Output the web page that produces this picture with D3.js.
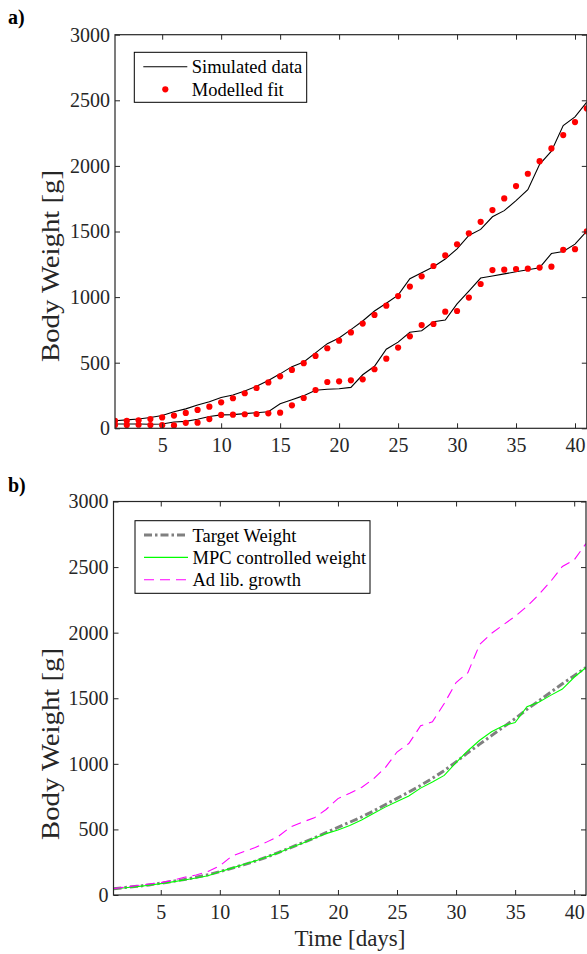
<!DOCTYPE html>
<html>
<head>
<meta charset="utf-8">
<script src="https://cdn.jsdelivr.net/npm/d3@7"></script>
<style>
  body { margin: 0; background: #fff; }
  text { font-family: "Liberation Serif", "Times New Roman", serif; }
</style>
</head>
<body>
<svg id="chart" width="587" height="954"></svg>
<script>
// days on the x axis
const days = [1, 2, 3, 4, 5, 6, 7, 8, 9, 10, 11, 12, 13, 14, 15, 16, 17, 18, 19, 20,
  21, 22, 23, 24, 25, 26, 27, 28, 29, 30, 31, 32, 33, 34, 35, 36, 37, 38, 39, 40, 41];

// panel a: simulated data (two animals) and the modelled fit
const simUpper = [58, 64, 71, 82, 98, 126, 148, 178, 202, 235, 254, 285, 320, 365, 415, 470, 505, 575, 645, 688,
  752, 818, 894, 953, 1015, 1140, 1186, 1232, 1290, 1368, 1470, 1516, 1612, 1659, 1735, 1819, 2012, 2112, 2308, 2374, 2486];
const fitUpper = [56, 57, 61, 70, 83, 97, 117, 140, 165, 198, 229, 267, 307, 350, 396, 445, 496, 552, 610, 668,
  731, 798, 864, 935, 1008, 1080, 1158, 1237, 1318, 1403, 1486, 1574, 1663, 1752, 1846, 1940, 2036, 2133, 2235, 2334, 2438];
const simLower = [33, 33, 33, 31, 33, 48, 53, 69, 90, 102, 104, 112, 119, 126, 187, 217, 249, 290, 298, 302,
  312, 408, 473, 603, 657, 732, 744, 812, 825, 948, 1045, 1145, 1161, 1177, 1193, 1208, 1224, 1332, 1347, 1404, 1502];
const fitLower = [25, 25, 27, 25, 24, 22, 42, 43, 70, 102, 104, 107, 109, 114, 119, 175, 231, 292, 353, 358,
  366, 373, 450, 531, 615, 701, 787, 795, 889, 894, 996, 1100, 1206, 1209, 1214, 1217, 1225, 1232, 1360, 1365, 1501];

// panel b: target, MPC controlled and ad lib. growth
const targetWeight = [48, 57, 66, 77, 90, 104, 118, 135, 155, 178, 203, 230, 258, 290, 325, 362, 398, 435, 475, 515,
  555, 595, 640, 688, 737, 785, 835, 890, 948, 1015, 1085, 1150, 1215, 1280, 1345, 1415, 1480, 1545, 1610, 1672, 1735];
const mpcWeight = [46, 55, 64, 74, 87, 100, 114, 130, 147, 178, 205, 232, 260, 292, 323, 362, 395, 432, 468, 495,
  530, 572, 622, 670, 712, 755, 815, 862, 912, 1010, 1100, 1180, 1245, 1290, 1315, 1435, 1470, 1522, 1570, 1660, 1735];
const adLibWeight = [48, 60, 72, 84, 94, 112, 135, 152, 180, 222, 295, 330, 362, 405, 450, 520, 556, 588, 652, 735,
  775, 820, 885, 970, 1090, 1155, 1290, 1320, 1460, 1620, 1695, 1910, 1995, 2060, 2125, 2200, 2290, 2390, 2505, 2555, 2680];

const xTicks = [5, 10, 15, 20, 25, 30, 35, 40];
const yTicks = [0, 500, 1000, 1500, 2000, 2500, 3000];

const svg = d3.select('#chart');
const axisColor = '#262626';
const serif = '"Liberation Serif", "Times New Roman", serif';

function drawPanel(cfg) {
  const x = d3.scaleLinear().domain([1, 41]).range([cfg.left, cfg.right]);
  const y = d3.scaleLinear().domain([0, 3000]).range([cfg.bottom, cfg.top]);
  const g = svg.append('g');

  g.append('clipPath').attr('id', cfg.id + '-clip')
    .append('rect')
    .attr('x', cfg.left).attr('y', cfg.top)
    .attr('width', cfg.right - cfg.left).attr('height', cfg.bottom - cfg.top);

  const plot = g.append('g').attr('clip-path', `url(#${cfg.id}-clip)`);
  cfg.series.forEach(s => {
    if (s.type === 'line') {
      plot.append('path')
        .datum(s.values)
        .attr('fill', 'none')
        .attr('stroke', s.color)
        .attr('stroke-width', s.width)
        .attr('stroke-dasharray', s.dash || null)
        .attr('d', d3.line().x((d, i) => x(days[i])).y(d => y(d)));
    } else {
      plot.selectAll(null)
        .data(s.values)
        .enter()
        .append('circle')
        .attr('cx', (d, i) => x(days[i]))
        .attr('cy', d => y(d))
        .attr('r', 3.1)
        .attr('fill', s.color);
    }
  });

  // axes: ticks pointing inwards on all four sides
  const tl = 5;
  const fmt = d3.format('d');
  const axes = g.append('g');
  axes.append('g')
    .attr('transform', `translate(0,${cfg.bottom})`)
    .call(d3.axisBottom(x).tickValues(xTicks).tickFormat(fmt).tickSizeInner(-tl).tickSizeOuter(0).tickPadding(10));
  axes.append('g')
    .attr('transform', `translate(0,${cfg.top})`)
    .call(d3.axisTop(x).tickValues(xTicks).tickSizeInner(-tl).tickSizeOuter(0).tickFormat(''));
  axes.append('g')
    .attr('transform', `translate(${cfg.left},0)`)
    .call(d3.axisLeft(y).tickValues(yTicks).tickFormat(fmt).tickSizeInner(-tl).tickSizeOuter(0).tickPadding(5));
  axes.append('g')
    .attr('transform', `translate(${cfg.right},0)`)
    .call(d3.axisRight(y).tickValues(yTicks).tickSizeInner(-tl).tickSizeOuter(0).tickFormat(''));

  axes.selectAll('.domain').remove();
  axes.selectAll('g').attr('font-family', serif).attr('font-size', 20);
  axes.selectAll('.tick line').attr('stroke', axisColor).attr('stroke-width', 1);
  axes.selectAll('.tick text')
    .attr('fill', axisColor)
    .style('font-family', serif)
    .style('font-size', '20px');

  g.append('rect')
    .attr('x', cfg.left).attr('y', cfg.top)
    .attr('width', cfg.right - cfg.left).attr('height', cfg.bottom - cfg.top)
    .attr('fill', 'none').attr('stroke', axisColor).attr('stroke-width', 1.2);

  g.append('text')
    .attr('transform', `translate(${cfg.ylabelX},${cfg.ylabelY}) rotate(-90)`)
    .attr('text-anchor', 'middle')
    .attr('fill', axisColor)
    .attr('textLength', 192)
    .attr('lengthAdjust', 'spacingAndGlyphs')
    .style('font-size', '25px')
    .text('Body Weight [g]');

  g.append('text')
    .attr('x', 8).attr('y', cfg.tagY)
    .attr('font-weight', 'bold')
    .style('font-size', '20px')
    .text(cfg.tag);

  // legend
  const lg = g.append('g');
  lg.append('rect')
    .attr('x', cfg.legend.x).attr('y', cfg.legend.y)
    .attr('width', cfg.legend.w).attr('height', cfg.legend.h)
    .attr('fill', '#fff').attr('stroke', '#000').attr('stroke-width', 1);
  cfg.series.filter(s => s.label).forEach((s, i) => {
    const ry = cfg.legend.y + cfg.legend.row0 + i * cfg.legend.step;
    const x0 = cfg.legend.x + 9, x1 = cfg.legend.x + 53;
    if (s.type === 'line') {
      lg.append('line')
        .attr('x1', x0).attr('x2', x1).attr('y1', ry).attr('y2', ry)
        .attr('stroke', s.color).attr('stroke-width', s.width)
        .attr('stroke-dasharray', s.dash || null);
    } else {
      lg.append('circle').attr('cx', (x0 + x1) / 2).attr('cy', ry).attr('r', 3.1).attr('fill', s.color);
    }
    lg.append('text')
      .attr('x', cfg.legend.x + 57.5).attr('y', ry + 6.5)
      .style('font-size', '18.5px')
      .text(s.label);
  });
}

drawPanel({
  id: 'a', tag: 'a)', tagY: 24,
  left: 115, right: 586.8, top: 34.7, bottom: 428.3,
  ylabelX: 59, ylabelY: 266,
  legend: { x: 134.3, y: 52.3, w: 172.4, h: 50, row0: 14.5, step: 22.5 },
  series: [
    { type: 'line', values: simUpper, color: '#000', width: 1.1, label: 'Simulated data' },
    { type: 'line', values: simLower, color: '#000', width: 1.1 },
    { type: 'dot', values: fitUpper, color: '#ff0000', label: 'Modelled fit' },
    { type: 'dot', values: fitLower, color: '#ff0000' }
  ]
});

drawPanel({
  id: 'b', tag: 'b)', tagY: 492,
  left: 113.5, right: 586, top: 501.5, bottom: 895,
  ylabelX: 59, ylabelY: 744,
  legend: { x: 135, y: 520.7, w: 235, h: 72.6, row0: 14.3, step: 22.4 },
  series: [
    { type: 'line', values: targetWeight, color: '#808080', width: 3, dash: '8,3,2.5,3', label: 'Target Weight' },
    { type: 'line', values: mpcWeight, color: '#00ff00', width: 1.1, label: 'MPC controlled weight' },
    { type: 'line', values: adLibWeight, color: '#ff00ff', width: 1.1, dash: '10,6', label: 'Ad lib. growth' }
  ]
});

svg.append('text')
  .attr('x', 350).attr('y', 946)
  .attr('text-anchor', 'middle')
  .attr('fill', axisColor)
  .style('font-size', '23px')
  .text('Time [days]');
</script>
</body>
</html>
